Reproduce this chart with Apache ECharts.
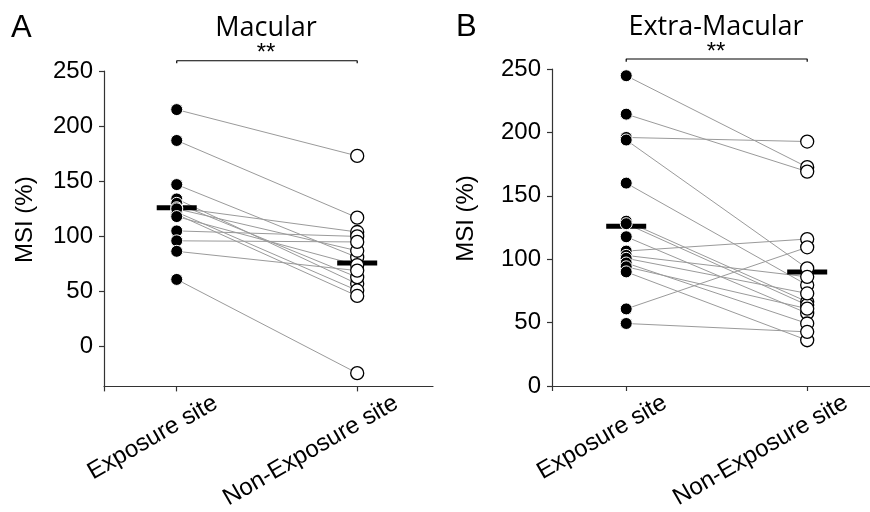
<!DOCTYPE html>
<html>
<head>
<meta charset="utf-8">
<script src="https://cdn.jsdelivr.net/npm/echarts@6/dist/echarts.min.js"></script>
<style>
  html, body { margin: 0; padding: 0; background: #fff; }
  #chart { width: 870px; height: 512px; }
</style>
</head>
<body>
<div id="chart"></div>
<script>
// categories and tick labels
var categories = ["Exposure site", "Non-Exposure site"];
var yTicks = [0, 50, 100, 150, 200, 250];

// A: Macular, one value per eye (paired)
var macularExposure = [215, 187, 147, 134, 130, 126, 122, 120, 125, 118, 105, 96, 86.5, 61];
var macularNonExposure = [173, 117, 81, 57, 63, 104, 51, 46, 87, 74, 100, 95, 69, -24];
var macularMeans = [126, 76];

// B: Extra-Macular
var extraExposure = [244.7, 214.4, 196, 194, 160, 130, 128, 117.7, 106.4, 103, 100.7, 97, 94, 90, 60.8, 49.3];
var extraNonExposure = [172.6, 169.1, 192.8, 92.8, 79.6, 66.4, 63.8, 57.4, 115.9, 86.1, 73, 49.3, 61, 36.1, 109.4, 42.7];
var extraMeans = [126, 90];

// significance bracket heights (value units)
var macularBracket = [257, 259.3];
var extraBracket = [255.8, 257.9];

var font = "Liberation Sans";

function panelSeries(gi, exp, non, means, bracket) {
  var s = [];
  // paired lines
  for (var k = 0; k < exp.length; k++) {
    s.push({
      type: "line", xAxisIndex: gi, yAxisIndex: gi,
      data: [[0, exp[k]], [1, non[k]]],
      symbol: "none", silent: true, z: 2,
      lineStyle: { color: "#9a9a9a", width: 1 }
    });
  }
  // mean bars
  s.push({
    type: "scatter", xAxisIndex: gi, yAxisIndex: gi,
    data: [[0, means[0]], [1, means[1]]],
    symbol: "rect", symbolSize: [40, 5], z: 3,
    itemStyle: { color: "#000", opacity: 1 }
  });
  // exposure site (filled)
  s.push({
    type: "scatter", xAxisIndex: gi, yAxisIndex: gi,
    data: exp.map(function (v) { return [0, v]; }),
    symbolSize: 12, z: 4,
    itemStyle: { color: "#000", borderColor: "#fff", borderWidth: 1, opacity: 1 }
  });
  // non-exposure site (open)
  s.push({
    type: "scatter", xAxisIndex: gi, yAxisIndex: gi,
    data: non.map(function (v) { return [1, v]; }),
    symbolSize: 13, z: 4,
    itemStyle: { color: "#fff", borderColor: "#000", borderWidth: 1.3, opacity: 1 }
  });
  // bracket
  s.push({
    type: "line", xAxisIndex: gi, yAxisIndex: gi,
    data: [[0, bracket[0]], [0, bracket[1]], [1, bracket[1]], [1, bracket[0]]],
    symbol: "none", clip: false, silent: true, z: 2,
    lineStyle: { color: "#000", width: 1.2 }
  });
  return s;
}

function dataAxis(gi, min, max) {
  return {
    type: "value", gridIndex: gi, position: "bottom", min: min, max: max,
    axisLine: { show: true, onZero: false, lineStyle: { color: "#333", width: 1.2 } },
    axisTick: { show: true, length: 5, customValues: [min, 0, 1], lineStyle: { color: "#333", width: 1.2 } },
    axisLabel: { show: false },
    splitLine: { show: false }
  };
}

// label-only axis, shifted so the rotated labels sit right of each tick
function labelAxis(gi, min, max) {
  return {
    type: "value", gridIndex: gi, position: "bottom", min: min, max: max,
    axisLine: { show: false, onZero: false }, axisTick: { show: false }, splitLine: { show: false },
    axisLabel: {
      customValues: [0, 1], rotate: 30, margin: 15,
      fontSize: 24, color: "#000", fontFamily: font,
      formatter: function (v) { return categories[Math.round(v)]; }
    }
  };
}

function yAxis(gi, min, gap) {
  return {
    type: "value", gridIndex: gi, min: min, max: 250,
    name: "MSI (%)", nameLocation: "middle", nameGap: gap,
    nameTextStyle: { fontSize: 24, color: "#000", fontFamily: font, padding: [0, 0, 0, 18] },
    axisLine: { show: true, onZero: false, lineStyle: { color: "#333", width: 1.2 } },
    axisTick: { show: true, length: 5, customValues: yTicks, lineStyle: { color: "#333", width: 1.2 } },
    axisLabel: { customValues: yTicks, margin: 11, fontSize: 24, color: "#000", fontFamily: font },
    splitLine: { show: false }
  };
}

var option = {
  animation: false,
  backgroundColor: "#fff",
  grid: [
    { left: 104, top: 71, width: 329, height: 317 },
    { left: 552, top: 69, width: 318, height: 317 }
  ],
  xAxis: [
    dataAxis(0, -0.403, 1.42),
    dataAxis(1, -0.41, 1.347),
    labelAxis(0, -0.619, 1.204),
    labelAxis(1, -0.625, 1.132)
  ],
  yAxis: [yAxis(0, -36, 67), yAxis(1, 0, 74)],
  graphic: [
    { type: "text", left: 11, top: 13, style: { text: "A", fontSize: 31, fontFamily: font, fill: "#000" } },
    { type: "text", left: 456, top: 12, style: { text: "B", fontSize: 31, fontFamily: font, fill: "#000" } },
    { type: "text", x: 266, y: 28, style: { text: "Macular", fontSize: 27, fontFamily: "Open Sans", fill: "#000", textAlign: "center", textVerticalAlign: "middle" } },
    { type: "text", x: 716, y: 27, style: { text: "Extra-Macular", fontSize: 27, fontFamily: "Open Sans", fill: "#000", textAlign: "center", textVerticalAlign: "middle" } },
    { type: "text", x: 266, y: 53, style: { text: "**", fontSize: 24, fontFamily: font, fill: "#000", textAlign: "center", textVerticalAlign: "middle" } },
    { type: "text", x: 716, y: 52, style: { text: "**", fontSize: 24, fontFamily: font, fill: "#000", textAlign: "center", textVerticalAlign: "middle" } }
  ],
  series: panelSeries(0, macularExposure, macularNonExposure, macularMeans, macularBracket)
    .concat(panelSeries(1, extraExposure, extraNonExposure, extraMeans, extraBracket))
};

var myChart = echarts.init(document.getElementById("chart"));
myChart.setOption(option);
</script>
</body>
</html>
